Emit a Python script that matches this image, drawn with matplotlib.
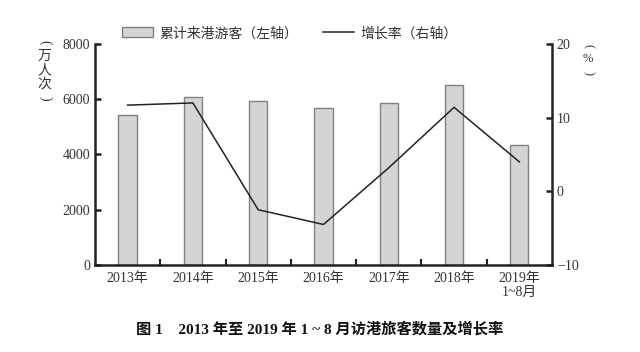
import matplotlib
matplotlib.use('Agg')
import matplotlib.pyplot as plt
import numpy as np

plt.rcParams['font.family'] = ['Liberation Serif', 'Noto Sans CJK SC']

years = ['2013年', '2014年', '2015年', '2016年', '2017年', '2018年', '2019年\n1~8月']
visitors = [5430, 6080, 5930, 5670, 5850, 6510, 4360]   # 万人次
growth = [11.7, 12.0, -2.5, -4.5, 3.2, 11.4, 4.0]        # %

fig = plt.figure(figsize=(6.4, 3.52), dpi=100)
ax = fig.add_axes([0.1484, 0.2472, 0.7141, 0.6278])
x = np.arange(len(years))

bars = ax.bar(x, visitors, width=0.28, color='#d4d4d5', edgecolor='#808080',
              linewidth=1.0, label='累计来港游客（左轴）')
ax.set_xlim(-0.5, len(years) - 0.5)
ax.set_ylim(0, 8000)
ax.set_yticks([0, 2000, 4000, 6000, 8000])
ax.set_xticks(x)
ax.set_xticklabels(years, fontsize=10, color='#333333', linespacing=1.1)
ax.set_xticks(np.arange(0.5, len(years) - 1, 1), minor=True)
ax.tick_params(axis='x', which='major', length=0, pad=5)
ax.tick_params(axis='x', which='minor', direction='in', length=4, width=1.5, color='#222222')
ax.tick_params(axis='y', direction='in', length=4, width=1.8, labelsize=10,
               color='#222222', labelcolor='#333333')

ax2 = ax.twinx()
line, = ax2.plot(x, growth, color='#222222', linewidth=1.1, label='增长率（右轴）')
ax2.set_ylim(-10, 20)
ax2.set_yticks([-10, 0, 10, 20])
ax2.set_yticklabels(['−10', '0', '10', '20'])
ax2.tick_params(axis='y', direction='in', length=4, width=1.8, labelsize=10,
                color='#222222', labelcolor='#333333')

for a in (ax, ax2):
    a.spines['top'].set_visible(False)
    for s in ('left', 'right', 'bottom'):
        a.spines[s].set_linewidth(1.8)
        a.spines[s].set_color('#222222')
ax.spines['right'].set_visible(False)
ax2.spines['left'].set_visible(False)
ax2.spines['bottom'].set_visible(False)

fig.legend(handles=[bars, line], loc='center', bbox_to_anchor=(0.453, 0.905),
           ncol=2, frameon=False, fontsize=10, handlelength=2.2, handletextpad=0.5,
           columnspacing=1.8, labelcolor='#333333')

# vertical unit labels, parentheses turned sideways
def vlabel(xc, ytop, step, chars, fs):
    for i, ch in enumerate(chars):
        rot = -90 if ch in '()' else 0
        fig.text(xc, ytop - i * step, ch, fontsize=fs, color='#333333',
                 ha='center', va='center', rotation=rot)

vlabel(0.070, 0.880, 0.040, '(万人次)', 10)
vlabel(0.919, 0.870, 0.038, '(%)', 9)

fig.text(0.5, 0.066, '图 1    2013 年至 2019 年 1 ~ 8 月访港旅客数量及增长率',
         ha='center', va='center', fontsize=11, fontweight='bold', color='#111111')

fig.savefig('out.png', dpi=100)
